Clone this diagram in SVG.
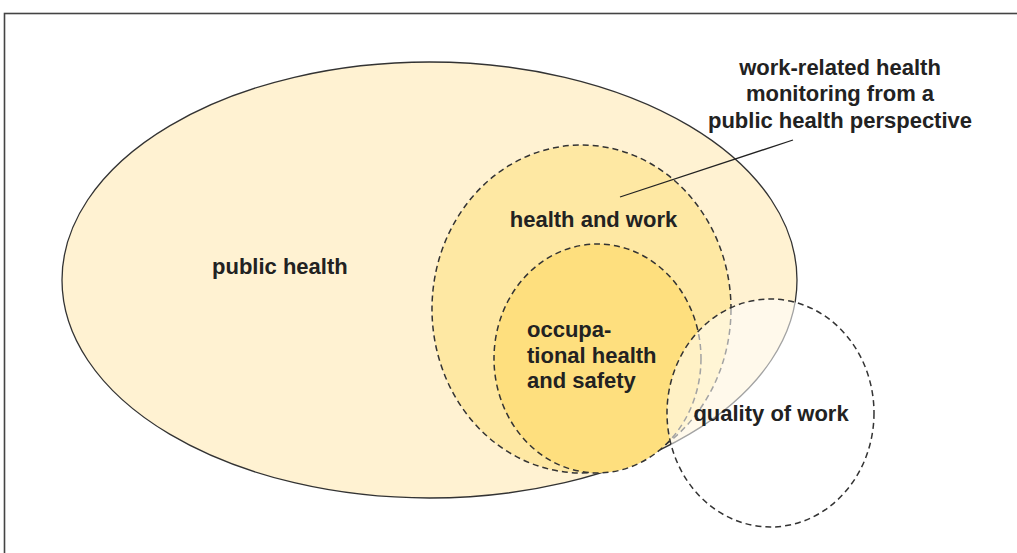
<svg xmlns="http://www.w3.org/2000/svg" width="1017" height="553" viewBox="0 0 1017 553">
<style>
.lbl{font-family:"Liberation Sans",Arial,sans-serif;font-weight:bold;font-size:22px;fill:#222}
.dash{fill:none;stroke:#333;stroke-width:1.5;stroke-dasharray:6 4}
</style>
<rect x="0" y="0" width="1017" height="553" fill="#ffffff"/>
<rect x="4.5" y="13.5" width="1030" height="560" fill="none" stroke="#444" stroke-width="1.6"/>
<g id="public-health">
<ellipse cx="429.5" cy="280" rx="367.5" ry="218" fill="#fff2d2" stroke="#333" stroke-width="1.3"/>
<text class="lbl" x="212" y="274">public health</text>
</g>
<g id="health-and-work">
<ellipse cx="581.5" cy="309" rx="149.5" ry="164" fill="#fee8a3"/>
<ellipse class="dash" cx="581.5" cy="309" rx="149.5" ry="164"/>
<text class="lbl" x="593.5" y="227" text-anchor="middle">health and work</text>
</g>
<g id="occupational-health">
<ellipse cx="597.5" cy="358.5" rx="103.5" ry="114.5" fill="#fedf7e"/>
<ellipse class="dash" cx="597.5" cy="358.5" rx="103.5" ry="114.5"/>
<text class="lbl" x="527" y="337">occupa-</text>
<text class="lbl" x="527" y="363">tional health</text>
<text class="lbl" x="527" y="388">and safety</text>
</g>
<g id="quality-of-work">
<ellipse cx="770.5" cy="413" rx="103.5" ry="114" fill="#ffffff" fill-opacity="0.55"/>
<ellipse class="dash" cx="770.5" cy="413" rx="103.5" ry="114"/>
<text class="lbl" x="771" y="421" text-anchor="middle">quality of work</text>
</g>
<g id="connectors">
<line x1="620" y1="197" x2="793" y2="140" stroke="#222" stroke-width="1.3"/>
</g>
<g id="monitoring-label">
<text class="lbl" x="840" y="75" text-anchor="middle">work-related health</text>
<text class="lbl" x="840" y="101" text-anchor="middle">monitoring from a</text>
<text class="lbl" x="840" y="128" text-anchor="middle">public health perspective</text>
</g>
</svg>
